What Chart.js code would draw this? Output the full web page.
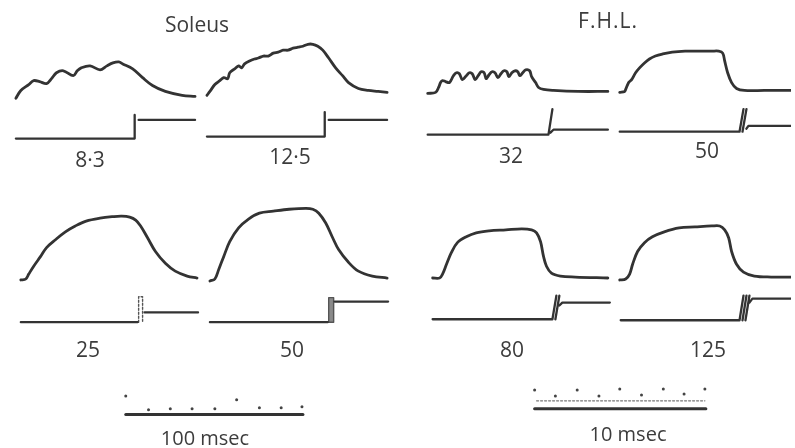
<!DOCTYPE html>
<html>
<head>
<meta charset="utf-8">
<script src="https://cdn.jsdelivr.net/npm/chart.js@4"></script>
<style>
  body { margin: 0; background: #fff; }
  #wrap { position: relative; width: 795px; height: 448px; background: #fff; overflow: hidden; }
  #traces { position: absolute; left: 0; top: 0; }
  .txt {
    position: absolute; transform: translate(-50%, -50%);
    font-family: "Open Sans", Lato, sans-serif; font-size: 21px; color: #3c3c3c;
    white-space: nowrap; line-height: 1;
  }
</style>
</head>
<body>
<div id="wrap">
  <canvas id="traces" width="795" height="448"></canvas>
</div>
<script>
// tension traces: time since start of panel, tension above baseline
const sol83Time = [0, 5, 13, 18, 24, 31, 36, 41, 48, 58, 62, 66, 75, 85, 92, 98, 104, 108, 118, 128, 138, 151, 168, 181];
const sol83Tension = [0, 8, 14, 18, 17, 15, 20, 26, 28, 23, 28, 31, 33, 29, 33, 36, 37, 35, 30, 21, 13, 7, 3, 2];

const sol125Time = [0, 3, 8, 13, 17, 21, 23, 28, 32, 35, 38, 43, 48, 52, 57, 62, 67, 72, 77, 82, 87, 92, 97, 102, 107, 112, 117, 123, 130, 137, 143, 153, 163, 173, 182];
const sol125Tension = [0, 4, 11, 15, 18, 17, 23, 27, 30, 28, 32, 35, 37, 38, 40, 40, 43, 44, 46, 46, 48, 49, 50, 52, 52, 50, 46, 38, 28, 20, 13, 7, 5, 4, 3];

const fhl32Time = [0, 8, 11, 13, 15, 18, 22, 26, 29, 32, 35, 39, 42, 45, 48, 51, 54, 57, 59, 62, 65, 68, 71, 74, 77, 80, 82, 85, 88, 91, 93, 96, 99, 103, 105, 109, 112, 117, 127, 152, 182];
const fhl32Tension = [0, 1, 6, 11, 13, 12, 11, 18, 21, 20, 14, 18, 21, 20, 14, 18, 22, 21, 15, 19, 22, 21, 16, 20, 23, 22, 17, 21, 23, 22, 18, 21, 24, 23, 17, 11, 6, 4, 3, 2, 2];

const fhl50Time = [0, 5, 6, 9, 12, 16, 20, 25, 30, 36, 43, 53, 66, 80, 93, 100, 104, 106, 109, 113, 118, 126, 146, 173];
const fhl50Tension = [0, 1, 3, 10, 13, 20, 25, 30, 34, 37, 39, 41, 42, 42, 42, 42, 40, 32, 20, 10, 4, 2, 2, 2];

const sol25Time = [0, 5, 8, 13, 20, 26, 35, 45, 55, 66, 80, 93, 102, 110, 116, 121, 128, 136, 146, 156, 168, 178];
const sol25Tension = [0, 1, 6, 14, 24, 33, 41, 49, 55, 60, 63, 64.5, 65, 64, 61, 55, 43, 29, 17, 9, 4, 2];

const sol50Time = [0, 5, 9, 14, 20, 29, 39, 50, 64, 80, 97, 104, 110, 117, 124, 130, 140, 150, 164, 179];
const sol50Tension = [0, 2, 12, 25, 40, 54, 63, 69, 71, 73, 74, 73, 69, 59, 44, 32, 19, 10, 5, 3];

const fhl80Time = [0, 7, 10, 14, 19, 25, 34, 44, 57, 74, 90, 100, 105, 109, 112, 115, 120, 129, 144, 177];
const fhl80Tension = [0, 0, 4, 14, 26, 36, 42, 46, 48, 49, 50, 49, 46, 37, 22, 12, 5, 2, 1, 0];

const fhl125Time = [0, 6, 10, 13, 18, 25, 33, 45, 60, 76, 93, 101, 106, 110, 113, 118, 125, 136, 153, 173];
const fhl125Tension = [0, 1, 6, 16, 29, 38, 44, 49, 53, 54, 55, 55, 51, 43, 29, 16, 8, 4, 3, 3];

// stimulus / signal traces (null = pen lifted)
const sol83StimTime = [0, 120, 120, 120, 124, 181];
const sol83Stim = [0, 0, 24, null, 19, 19];
const sol125StimTime = [0, 119, 119, 119, 123, 182];
const sol125Stim = [0, 0, 25, null, 17, 17];
const fhl32StimTime = [0, 122, 126, 126, 124, 127, 182];
const fhl32Stim = [0, 0, 26, null, 2, 5, 5];
const fhl50StimTime = [0, 121, 125, 125, 124, 128, 128, 128, 130, 173];
const fhl50Stim = [0, 0, 23, null, 0, 23, null, 3, 6, 6];
const sol25StimTime = [0, 118, 118, 125, 179];
const sol25Stim = [0, 0, null, 10, 10];
const sol50StimTime = [0, 119, 119, 126, 180];
const sol50Stim = [0, 0, null, 21, 21];
const fhl80StimTime = [0, 121, 125, 125, 124, 128, 128, 128, 131, 179];
const fhl80Stim = [0, 0, 24, null, 0, 24, null, 14, 17, 17];
const fhl125StimTime = [1, 121, 125, 125, 124, 128, 128, 127, 131, 131, 131, 134, 173];
const fhl125Stim = [0, 0, 25, null, 0, 25, null, 0, 25, null, 18, 22, 22];

// stimulus marks on the slow records
const sol25MarkTime = [119, 119, 123, 123];
const sol25Mark = [0, 26, 26, 0];
const sol50MarkTime = [120, 120, 125, 125, 120];
const sol50Mark = [0, 25, 25, 0, 0];

// time markers
const solScaleDotTime = [0, 23, 45, 67, 90, 112, 135, 157, 178];
const solScaleDot = [19, 5, 6, 6, 6, 15, 7, 7, 8];
const solScaleTime = [0, 179];
const fhlScaleDotTime = [0, 21, 43, 65, 86, 108, 130, 151, 172];
const fhlScaleDot = [19, 13, 19, 13, 20, 14, 20, 15, 20];
const fhlScaleTime = [0, 173];
const fhlFineTime = [2, 172];
const fhlFine = [8, 8];

const rateLabels = ["8·3", "12·5", "32", "50", "25", "50", "80", "125"];
const muscleTitles = ["Soleus", "F.H.L."];
const scaleLabels = ["100 msec", "10 msec"];

// layout (where each record sits on the page)
const panels = [
  { t: sol83Time, v: sol83Tension, st: sol83StimTime, s: sol83Stim, ox: 12, tb: 96, sb: 137, lx: 90, ly: 159 },
  { t: sol125Time, v: sol125Tension, st: sol125StimTime, s: sol125Stim, ox: 205, tb: 93, sb: 135, lx: 290, ly: 156 },
  { t: fhl32Time, v: fhl32Tension, st: fhl32StimTime, s: fhl32Stim, ox: 428, tb: 91, sb: 133, lx: 511, ly: 155 },
  { t: fhl50Time, v: fhl50Tension, st: fhl50StimTime, s: fhl50Stim, ox: 622, tb: 90, sb: 130, lx: 707, ly: 150 },
  { t: sol25Time, v: sol25Tension, st: sol25StimTime, s: sol25Stim, ox: 17, tb: 281, sb: 324, lx: 88, ly: 349,
    mt: sol25MarkTime, m: sol25Mark, dash: [2, 2] },
  { t: sol50Time, v: sol50Tension, st: sol50StimTime, s: sol50Stim, ox: 208, tb: 282, sb: 324, lx: 292, ly: 349,
    mt: sol50MarkTime, m: sol50Mark, fillMark: true },
  { t: fhl80Time, v: fhl80Tension, st: fhl80StimTime, s: fhl80Stim, ox: 433, tb: 279, sb: 321, lx: 512, ly: 349 },
  { t: fhl125Time, v: fhl125Tension, st: fhl125StimTime, s: fhl125Stim, ox: 622, tb: 281, sb: 322, lx: 708, ly: 349 },
];
const titlePos = [[197, 24], [608, 20]];
const scales = [
  { dt: solScaleDotTime, d: solScaleDot, lt: solScaleTime, ox: 123, base: 418, lx: 205, ly: 438 },
  { dt: fhlScaleDotTime, d: fhlScaleDot, lt: fhlScaleTime, ox: 536, base: 412, lx: 628, ly: 434,
    ft: fhlFineTime, f: fhlFine },
];

const INK = "#333";

function pts(times, vals, ox, base) {
  return times.map((t, i) => ({ x: ox + t, y: vals[i] === null ? null : base - vals[i] }));
}

const datasets = [];
panels.forEach((p) => {
  datasets.push({ data: pts(p.t, p.v, p.ox, p.tb), borderColor: INK, borderWidth: 2.8, tension: 0.35 });
  datasets.push({ data: pts(p.st, p.s, p.ox, p.sb), borderColor: INK, borderWidth: 2.3, tension: 0 });
  if (p.mt) {
    datasets.push({
      data: pts(p.mt, p.m, p.ox, p.sb), borderColor: "#555", borderWidth: 1.4, tension: 0,
      borderDash: p.dash || [], fill: p.fillMark ? "shape" : false, backgroundColor: "#8a8a8a",
    });
  }
});
scales.forEach((s) => {
  datasets.push({ data: pts(s.lt, s.lt.map(() => 0), s.ox, s.base), borderColor: INK, borderWidth: 3, tension: 0 });
  datasets.push({
    type: "scatter", data: pts(s.dt, s.d, s.ox, s.base), showLine: false,
    pointRadius: 1.5, pointBackgroundColor: "#444", pointBorderWidth: 0,
  });
  if (s.ft) {
    datasets.push({ data: pts(s.ft, s.f, s.ox, s.base), borderColor: "#777", borderWidth: 1.2, borderDash: [2, 2], tension: 0 });
  }
});

new Chart(document.getElementById("traces").getContext("2d"), {
  type: "line",
  data: { datasets },
  options: {
    responsive: false,
    animation: false,
    events: [],
    layout: { padding: 0 },
    elements: { point: { radius: 0 }, line: { capBezierPoints: true, borderCapStyle: "round", borderJoinStyle: "round" } },
    spanGaps: false,
    plugins: { legend: { display: false }, tooltip: { enabled: false } },
    scales: {
      x: { type: "linear", min: 0, max: 795, display: false },
      y: { type: "linear", min: 0, max: 448, reverse: true, display: false },
    },
  },
});

// text
const wrap = document.getElementById("wrap");
function addText(str, x, y, extra) {
  const d = document.createElement("div");
  d.className = "txt";
  d.textContent = str;
  d.style.left = x + "px";
  d.style.top = y + "px";
  Object.assign(d.style, extra || {});
  wrap.appendChild(d);
}
muscleTitles.forEach((t, i) => addText(t, titlePos[i][0], titlePos[i][1], i === 1 ? { letterSpacing: "1px" } : {}));
panels.forEach((p, i) => addText(rateLabels[i], p.lx, p.ly));
scales.forEach((s, i) => addText(scaleLabels[i], s.lx, s.ly, { fontSize: "20px" }));
</script>
</body>
</html>
